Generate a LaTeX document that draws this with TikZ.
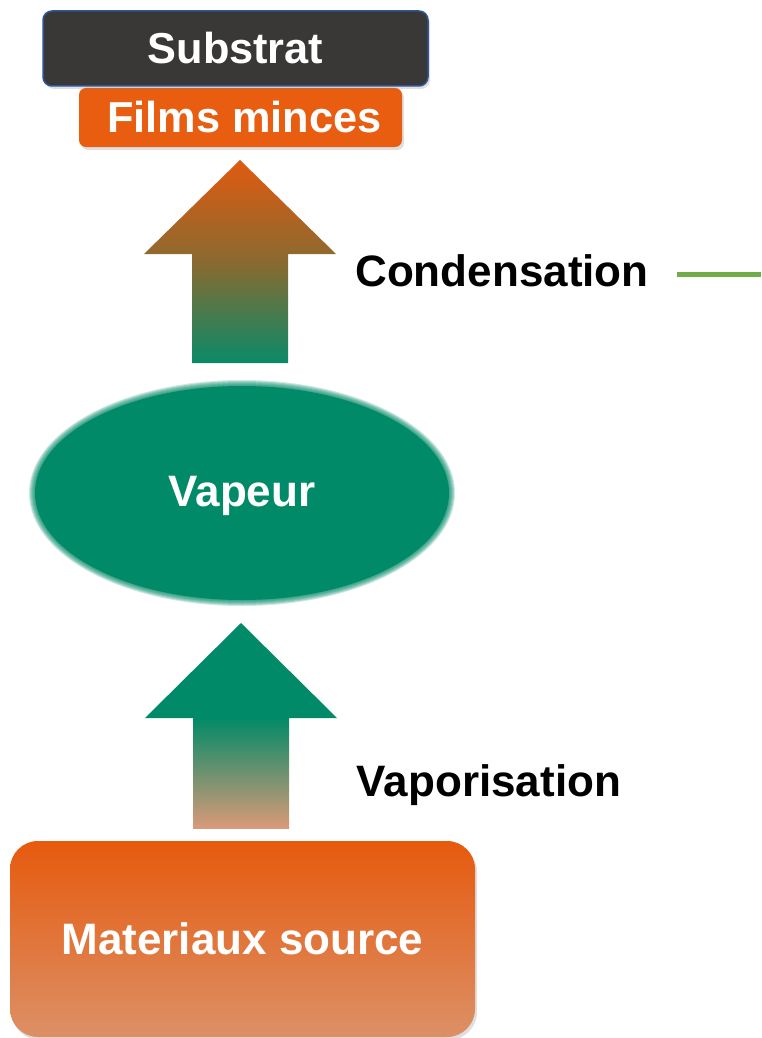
\documentclass[tikz,border=0pt]{standalone}
\usepackage{fontspec}
\setmainfont{Liberation Sans}
\usetikzlibrary{shapes.geometric,shadows}
\definecolor{subfill}{HTML}{3A3836}
\definecolor{subdraw}{HTML}{2F5597}
\definecolor{filmor}{HTML}{E85D0F}
\definecolor{vapgreen}{HTML}{008A67}
\definecolor{srctop}{HTML}{E65A0E}
\definecolor{srcbot}{HTML}{DC9066}
\definecolor{arrtop}{HTML}{E05A10}
\definecolor{arrmid}{HTML}{8A6A30}
\definecolor{arrbot}{HTML}{0A8A68}
\definecolor{lightor}{HTML}{D99A78}
\definecolor{lgreen}{HTML}{70AD47}
\tikzset{
  bigtxt/.style={font=\fontsize{44}{50}\selectfont\bfseries},
  toptxt/.style={font=\fontsize{43.3}{50}\selectfont\bfseries, text=white, inner sep=0pt},
  boxtxt/.style={bigtxt, text=white, inner sep=0pt},
  lbl/.style={bigtxt, text=black, inner sep=0pt},
  softshadow/.style={drop shadow={opacity=0.25, shadow xshift=2pt, shadow yshift=-3pt}},
}
\begin{document}
\begin{tikzpicture}[x=1pt,y=-1pt]
\useasboundingbox (0,0) rectangle (761,1038);
\fill[white] (0,0) rectangle (761,1038);

% Films minces
\node[toptxt, fill=filmor, rounded corners=7pt, minimum width=323pt, minimum height=59pt, softshadow] (films) at (240.5,117.5) {\hspace*{8pt}Films minces};
% Substrat
\node[toptxt, fill=subfill, draw=subdraw, line width=1.5pt, rounded corners=9pt, minimum width=385pt, minimum height=75pt, softshadow] (sub) at (235.5,48.5) {Substrat};

% Condensation arrow
\shade[top color=arrtop, bottom color=arrbot, middle color=arrmid]
  (240,160) -- (336,254) -- (288,254) -- (288,363) -- (192,363) -- (192,254) -- (144,254) -- cycle;
\node[lbl] (cond) at (502,271) {Condensation};
\coordinate (ls) at (677,274);
\coordinate (le) at (761,274);
\draw[lgreen, line width=5pt] (ls) -- (le);

% Vapeur ellipse with soft edge
\foreach \d in {0,1,...,6}{
  \fill[vapgreen, opacity=0.2] (242,493) ellipse ({207+\d} and {107+\d});
}
\node[ellipse, fill=vapgreen, minimum width=414pt, minimum height=214pt, inner sep=0pt] (vap) at (242,493) {};
\node[boxtxt] (vaptxt) at (242,496) {Vapeur};

% Vaporisation arrow
\fill[vapgreen] (241,623) -- (337,718) -- (145,718) -- cycle;
\shade[top color=vapgreen, bottom color=lightor] (193,717.5) rectangle (289,828);
\node[lbl] (vapo) at (489,785) {Vaporisation};

% Materiaux source
\node[boxtxt, top color=srctop, bottom color=srcbot, rounded corners=28pt, minimum width=465pt, minimum height=196pt, softshadow] (src) at (242.5,939) {Materiaux source};
\end{tikzpicture}
\end{document}
